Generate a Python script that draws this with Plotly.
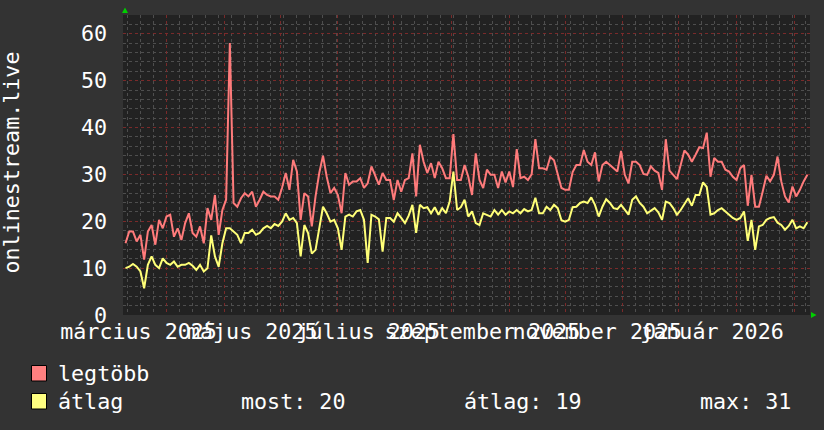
import pandas as pd
import plotly.graph_objects as go

# ---- data (one sample every 2 days) ----
start_date = "2025-02-07"
step = "2D"

legtobb = [
    15.3, 17.8, 17.8, 15.7, 17.1, 11.8, 17.8, 19.2, 15.0, 20.3,
    18.5, 21.0, 21.4, 16.7, 18.5, 16.0, 19.6, 21.7, 17.5, 16.7,
    18.9, 15.3, 22.8, 20.3, 25.6, 17.1, 22.4, 24.6, 58.0, 23.9,
    23.1, 24.9, 26.0, 25.3, 26.3, 23.1, 24.6, 26.3, 25.6, 25.3,
    25.3, 24.6, 27.1, 30.3, 26.7, 33.1, 30.6, 20.3, 26.0, 25.3,
    18.9, 25.3, 30.3, 34.0, 29.5, 26.0, 27.1, 25.6, 21.7, 30.3,
    27.8, 28.5, 28.5, 29.2, 27.1, 28.1, 31.7, 29.7, 27.8, 30.3,
    28.8, 28.8, 24.5, 28.8, 26.3, 28.8, 29.2, 34.5, 25.3, 36.3,
    32.7, 30.3, 32.4, 29.2, 32.7, 31.3, 29.2, 29.2, 38.6, 28.8,
    28.8, 32.0, 29.5, 25.6, 34.5, 28.8, 27.1, 31.0, 29.9, 29.9,
    27.1, 30.6, 28.3, 30.6, 27.3, 35.4, 29.2, 29.5, 28.8, 30.0,
    37.5, 31.3, 31.3, 31.0, 33.7, 33.0, 30.3, 27.1, 26.7, 26.7,
    30.5, 32.0, 32.0, 35.2, 32.7, 32.0, 34.7, 28.5, 32.0, 32.7,
    32.0, 31.3, 30.6, 35.0, 29.9, 28.1, 32.7, 32.7, 32.0, 30.1,
    29.9, 31.7, 30.8, 30.3, 26.7, 37.5, 30.8, 29.9, 29.0, 32.0,
    35.1, 34.2, 32.7, 34.2, 35.8, 35.6, 38.9, 29.5, 33.5, 32.7,
    32.7, 31.0, 30.6, 29.5, 28.8, 31.3, 32.0, 23.3, 29.9, 23.1,
    23.1, 26.3, 29.7, 28.5, 29.9, 33.8, 28.5, 25.3, 24.0, 27.4,
    25.3, 26.7, 28.5, 29.9,
]

atlag = [
    10.0, 10.3, 10.9, 10.3, 9.3, 5.7, 10.7, 12.5, 10.7, 10.0,
    12.1, 11.1, 10.7, 11.4, 10.3, 10.7, 10.7, 11.1, 10.5, 9.6,
    10.7, 9.3, 10.0, 17.0, 12.5, 10.3, 15.3, 18.5, 18.5, 17.8,
    17.1, 15.3, 17.5, 17.5, 18.2, 17.1, 17.5, 18.5, 19.0, 18.5,
    19.4, 19.0, 19.9, 21.7, 20.3, 20.7, 19.6, 12.5, 19.2, 17.5,
    13.1, 13.9, 18.5, 23.1, 21.7, 19.9, 20.3, 18.5, 13.9, 21.0,
    21.4, 21.0, 22.1, 22.4, 20.3, 11.1, 21.4, 21.0, 20.4, 13.5,
    20.7, 20.7, 19.9, 21.7, 20.7, 19.6, 21.2, 23.5, 17.5, 23.5,
    22.8, 23.0, 21.7, 23.0, 21.4, 22.8, 21.7, 24.2, 30.6, 22.4,
    23.0, 24.6, 21.0, 22.1, 19.6, 19.2, 21.7, 21.4, 21.0, 22.4,
    21.4, 22.4, 21.4, 22.1, 21.7, 22.4, 21.7, 22.6, 22.1, 22.4,
    25.0, 21.7, 21.7, 23.1, 22.4, 23.5, 22.8, 20.2, 19.9, 20.3,
    23.0, 23.1, 23.9, 24.2, 23.9, 25.1, 23.5, 21.0, 23.1, 24.7,
    23.9, 22.8, 22.6, 23.5, 22.4, 21.4, 24.6, 25.3, 23.9, 23.1,
    21.7, 22.2, 22.8, 21.9, 20.3, 24.2, 23.9, 22.8, 21.4, 22.4,
    23.7, 24.9, 23.3, 25.6, 25.6, 28.3, 27.3, 21.4, 21.7, 22.4,
    22.8, 22.1, 21.4, 20.7, 20.3, 20.7, 22.1, 15.8, 20.3, 13.9,
    18.9, 19.2, 20.3, 20.7, 20.9, 19.7, 19.2, 18.2, 19.0, 20.3,
    18.5, 18.9, 18.5, 19.8,
]

label_dates = ["2025-02-14", "2025-04-16", "2025-06-17 06:00",
               "2025-08-17 14:00", "2025-10-18 06:00", "2025-12-18 19:00"]
label_texts = ["március 2025", "május 2025", "július 2025",
               "szeptember 2025", "november 2025", "január 2026"]

y_title = "onlinestream.live"
legend_names = ["legtöbb", "átlag"]
stat_texts = ["most: 20", "átlag: 19", "max: 31"]

x_range = ["2025-02-05 15:36", "2026-02-09 10:00"]
y_range = [0, 64]

dates = pd.date_range(start_date, periods=len(legtobb), freq=step)

# ---- styling ----
FONT = "DejaVu Sans Mono"
FS = 21.7
RED = "#ff7b7b"
YELLOW = "#ffff78"
W, H = 824, 430
L, R, T, B = 123, 810, 15, 315


def px(x):
    return (x - L) / (R - L)


def py(y):
    return (B - y) / (B - T)


fig = go.Figure()
fig.add_trace(go.Scatter(x=dates, y=legtobb, mode="lines", name=legend_names[0],
                         line=dict(color=RED, width=2), showlegend=False))
fig.add_trace(go.Scatter(x=dates, y=atlag, mode="lines", name=legend_names[1],
                         line=dict(color=YELLOW, width=2), showlegend=False))
# invisible trace carrying the label axis
fig.add_trace(go.Scatter(x=label_dates, y=[None] * len(label_dates), xaxis="x2",
                         mode="markers", showlegend=False, hoverinfo="skip"))

fig.update_layout(
    width=W, height=H,
    margin=dict(l=L, r=W - R, t=T, b=H - B, pad=0, autoexpand=False),
    paper_bgcolor="#333333", plot_bgcolor="#222222",
    font=dict(family=FONT, size=FS, color="#ffffff"),
    xaxis=dict(
        type="date", range=x_range, showticklabels=False, ticks="",
        showgrid=True, tick0="2025-03-01", dtick="M1", automargin=False,
        gridcolor="#7a2a2a", griddash="dot", gridwidth=1,
        minor=dict(tick0="2025-03-01", dtick=7 * 86400000, showgrid=True,
                   gridcolor="#4e4e4e", griddash="dot", gridwidth=1),
        zeroline=False, showline=False,
    ),
    xaxis2=dict(
        type="date", range=x_range, overlaying="x", anchor="y", side="bottom",
        tickmode="array", tickvals=label_dates, ticktext=label_texts,
        showgrid=False, ticks="", zeroline=False, showline=False,
        tickangle=0, automargin=False,
        tickfont=dict(family=FONT, size=FS, color="#ffffff"),
        ticklabelstandoff=1,
    ),
    yaxis=dict(
        range=y_range, tickmode="linear", tick0=0, dtick=10, automargin=False,
        showgrid=True, gridcolor="#7a2a2a", griddash="dot", gridwidth=1,
        minor=dict(dtick=2, showgrid=True, gridcolor="#4e4e4e",
                   griddash="dot", gridwidth=1),
        ticks="", zeroline=False, showline=False,
        tickfont=dict(family=FONT, size=FS, color="#ffffff"),
        ticklabelstandoff=15,
    ),
    showlegend=False,
)

annotations = [
    dict(text=y_title, xref="paper", yref="paper", x=px(10.5), y=py(163),
         textangle=-90, showarrow=False, xanchor="center", yanchor="middle",
         font=dict(family=FONT, size=FS, color="#ffffff")),
    dict(text=legend_names[0], xref="paper", yref="paper", x=px(56), y=py(373),
         showarrow=False, xanchor="left", yanchor="middle",
         font=dict(family=FONT, size=FS, color="#ffffff")),
    dict(text=legend_names[1], xref="paper", yref="paper", x=px(56), y=py(401),
         showarrow=False, xanchor="left", yanchor="middle",
         font=dict(family=FONT, size=FS, color="#ffffff")),
]
for xs, t in zip([239, 462, 698], stat_texts):
    annotations.append(dict(text=t, xref="paper", yref="paper", x=px(xs), y=py(401),
                            showarrow=False, xanchor="left", yanchor="middle",
                            font=dict(family=FONT, size=FS, color="#ffffff")))
fig.update_layout(annotations=annotations)

shapes = [
    dict(type="rect", xref="paper", yref="paper", x0=px(31.5), x1=px(46.5),
         y0=py(381), y1=py(365.5), fillcolor="#ff8080",
         line=dict(color="#000000", width=1)),
    dict(type="rect", xref="paper", yref="paper", x0=px(31.5), x1=px(46.5),
         y0=py(409), y1=py(393.5), fillcolor="#ffff80",
         line=dict(color="#000000", width=1)),
    # axis arrows
    dict(type="path", xref="paper", yref="paper",
         path=f"M {px(122)} {py(13)} L {px(128)} {py(13)} L {px(125)} {py(7.5)} Z",
         fillcolor="#00d000", line=dict(color="#00d000", width=0)),
    dict(type="path", xref="paper", yref="paper",
         path=f"M {px(811)} {py(312)} L {px(811)} {py(318)} L {px(816.5)} {py(315)} Z",
         fillcolor="#00d000", line=dict(color="#00d000", width=0)),
]
fig.update_layout(shapes=shapes)

fig.write_html(
    "out.html",
    config={"displayModeBar": False},
    post_script="document.body.style.margin='0';document.body.style.background='#333333';",
)
